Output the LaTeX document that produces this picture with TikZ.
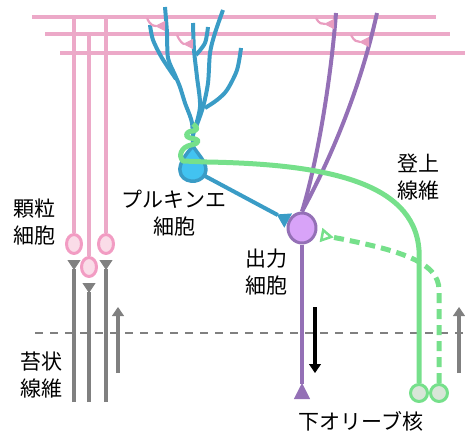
\documentclass[tikz,border=0pt]{standalone}
\usepackage{fontspec}
\setmainfont{Noto Sans CJK JP}
\usetikzlibrary{arrows.meta,shapes.geometric}
\definecolor{pfpink}{HTML}{ECA9C8}
\definecolor{spink}{HTML}{E99DC0}
\definecolor{grpink}{HTML}{F29CC3}
\definecolor{grfill}{HTML}{FADCE8}
\definecolor{pcblue}{HTML}{3A9CC6}
\definecolor{pcfill}{HTML}{42C3F1}
\definecolor{oupurple}{HTML}{9470B6}
\definecolor{oufill}{HTML}{D8A3F8}
\definecolor{cfgreen}{HTML}{76E08B}
\definecolor{iofill}{HTML}{D8E6D8}
\definecolor{mfgray}{HTML}{808080}
\begin{document}
\begin{tikzpicture}[x=1pt,y=-1pt,line join=round,
    lbl/.style={font=\fontsize{21}{27}\selectfont,align=center,inner sep=0pt},
    pf/.style={pfpink,line width=4.5pt},
    spine/.style={spink,line width=2.2pt,-{Triangle[reversed,width=10pt,length=10pt,line width=1pt,fill=spink]}},
    grc/.style={ellipse,draw=grpink,fill=grfill,line width=3pt,minimum width=15pt,minimum height=19pt,inner sep=0pt},
    mf/.style={mfgray,line width=4.5pt,-{Triangle[reversed,width=13pt,length=10pt,line width=1pt]}},
    pcd/.style={pcblue,line width=4pt},
    ou/.style={oupurple,line width=4pt},
    cf/.style={cfgreen,line width=5pt},
    ion/.style={circle,draw=cfgreen,fill=iofill,line width=3pt,minimum size=17pt,inner sep=0pt},
    flow/.style={line width=4pt,-{Triangle[width=12pt,length=9pt,line width=1pt]}}]
    \useasboundingbox (0,0) rectangle (465,434);
    % boundary
    \draw[mfgray,line width=2.5pt,dash pattern=on 8pt off 7pt] (35,333) -- (465,333);
    % parallel fibres
    \coordinate (pf1) at (32,17);
    \coordinate (pf2) at (45,34);
    \coordinate (pf3) at (60,53);
    \draw[pf] (pf1) -- (436,17);
    \draw[pf] (pf2) -- (450,34);
    \draw[pf] (pf3) -- (465,53);
    % granule cells
    \node[grc] (g1) at (74,244) {};
    \node[grc] (g2) at (89,267) {};
    \node[grc] (g3) at (106,244) {};
    \draw[pf] (g1.north) -- (g1.north |- pf1);
    \draw[pf] (g2.north) -- (g2.north |- pf2);
    \draw[pf] (g3.north) -- (g3.north |- pf1);
    % mossy fibres
    \coordinate (m1) at (74,402);
    \coordinate (m2) at (89,402);
    \coordinate (m3) at (106,402);
    \draw[mf] (m1) -- ([yshift=-5pt]g1.south);
    \draw[mf] (m2) -- ([yshift=-5pt]g2.south);
    \draw[mf] (m3) -- ([yshift=-5pt]g3.south);
    % Purkinje cell
    \draw[pcd] plot[smooth] coordinates {(193,148) (192,123) (185,103) (180,87) (175,75) (168,58) (167,33) (165,7)};
    \draw[pcd] plot[smooth] coordinates {(176,79) (162,58) (153,40) (150,25)};
    \draw[pcd] plot[smooth] coordinates {(193,135) (200,107) (197,77) (194,50) (193,23)};
    \draw[pcd] plot[smooth] coordinates {(196,55) (205,43) (208,27)};
    \draw[pcd] plot[smooth] coordinates {(196,127) (203,107) (208,83) (210,53) (215,33) (223,10)};
    \draw[pcd] plot[smooth] coordinates {(205,108) (217,100) (227,90) (237,70) (241,48)};
    \draw[pcd,line width=3.5pt,fill=pcfill] (193,146) .. controls (186,154) and (179,163) .. (180,171)
        .. controls (181,183) and (200,185) .. (205,174)
        .. controls (209,164) and (199,156) .. (193,146) -- cycle;
    \coordinate (pcax) at (203,175);
    % output cell
    \node[ellipse,draw=oupurple,fill=oufill,line width=3pt,minimum width=28pt,minimum height=30pt] (out) at (302,228) {};
    \draw[ou] (out.north) .. controls (315,170) and (330,90) .. (336,13);
    \draw[ou] (out.north) .. controls (330,160) and (360,90) .. (377,13);
    \coordinate (outax) at (302,399);
    \draw[ou,-{Triangle[reversed,width=16pt,length=16pt,line width=0.5pt]}] (out.south) -- (outax);
    \draw[pcd,-{Triangle[reversed,width=16pt,length=13pt,line width=1pt]}] (pcax) -- (out);
    % spines
    \draw[spine] (147,18) .. controls (150,25) and (153,26) .. (165,26);
    \draw[spine] (177,35) .. controls (180,42) and (183,44) .. (193,44);
    \draw[spine] (316,18) .. controls (319,24) and (322,24) .. (334,24);
    \draw[spine] (351,35) .. controls (354,41) and (357,42) .. (369,42);
    % climbing fibre
    \node[ion] (io1) at (419,393) {};
    \node[ion] (io2) at (439,393) {};
    \draw[cf] (io1.north) -- (419,250) .. controls (414,180) and (320,164) .. (207,162)
        -- (183,161) .. controls (178,156) and (181,147) .. (191,145)
        .. controls (201,143) and (200,139) .. (190,138)
        .. controls (184,137) and (186,131) .. (193,131)
        .. controls (199,130) and (197,127) .. (193,124);
    \coordinate (cfend) at (321,235);
    \draw[cf,dash pattern=on 10pt off 6pt,-{Triangle[open,reversed,width=14pt,length=13pt,line width=2.5pt,fill=white]}]
        (io2.north) -- (439,290) .. controls (439,262) and (400,250) .. (cfend);
    % signal directions
    \coordinate (fa1) at (118,373);
    \coordinate (fb1) at (118,307);
    \coordinate (fa2) at (459,373);
    \coordinate (fb2) at (459,307);
    \coordinate (fa3) at (315,307);
    \coordinate (fb3) at (315,373);
    \draw[flow,mfgray] (fa1) -- (fb1);
    \draw[flow,mfgray] (fa2) -- (fb2);
    \draw[flow,black] (fa3) -- (fb3);
    % labels
    \node[lbl] (grlbl) at (34,222) {顆粒\\細胞};
    \node[lbl] (pclbl) at (174,213) {プルキンエ\\細胞};
    \node[lbl] (cflbl) at (418,177) {登上\\線維};
    \node[lbl] (oulbl) at (266,272) {出力\\細胞};
    \node[lbl] (mflbl) at (41,375) {苔状\\線維};
    \node[lbl] (iolbl) at (361,421) {下オリーブ核};
\end{tikzpicture}
\end{document}
